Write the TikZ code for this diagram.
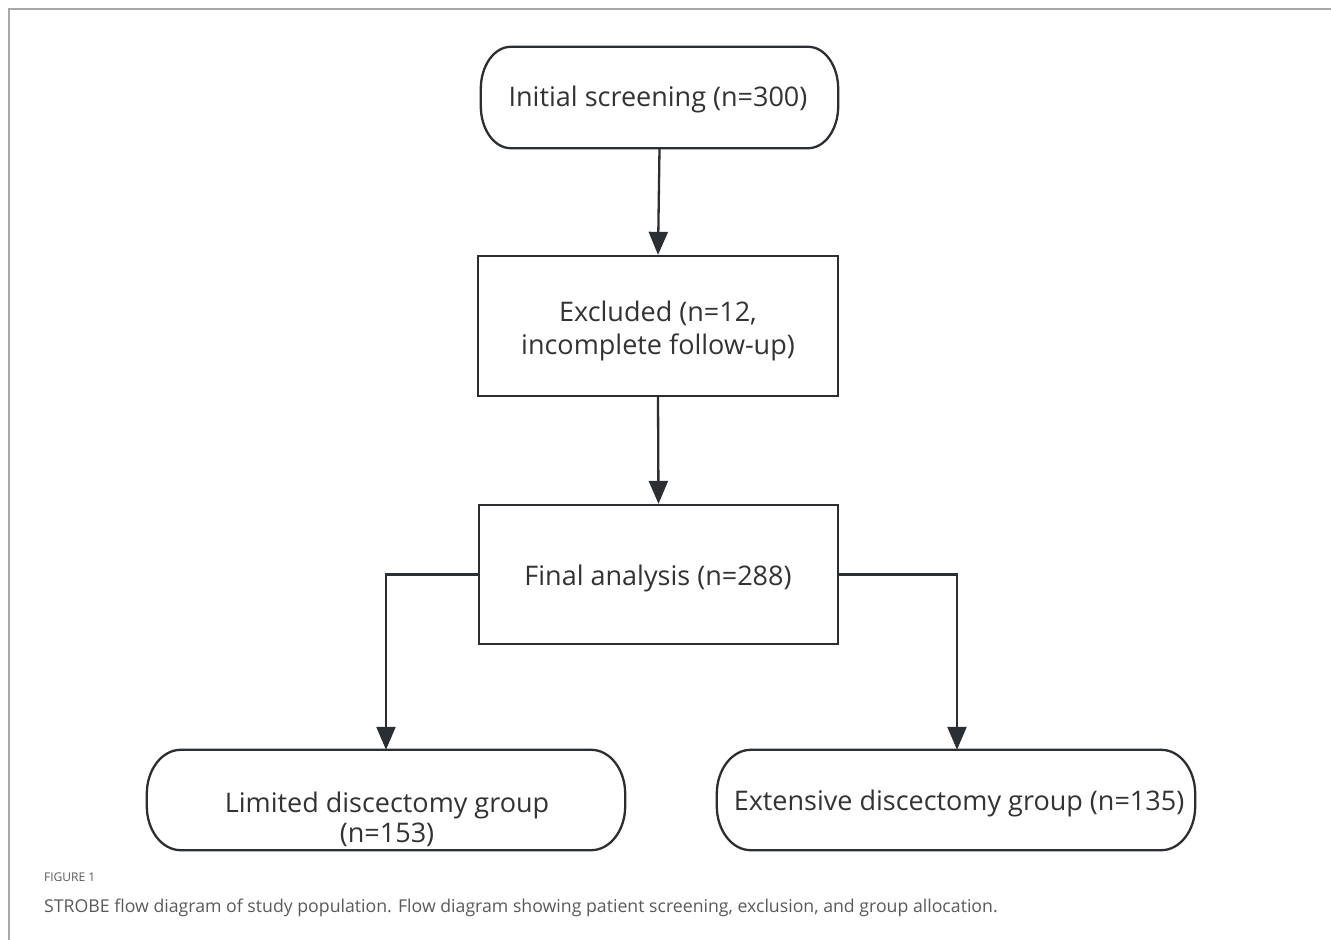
\documentclass[tikz,border=0pt]{standalone}
\usepackage{fontspec}
\setmainfont{Open Sans}
\usetikzlibrary{arrows.meta}
\definecolor{ink}{HTML}{2B2F33}
\definecolor{txt}{HTML}{333333}
\definecolor{frame}{HTML}{A8A8A8}
\definecolor{cap}{HTML}{5A5A5A}
\newcommand\stadiumoutline[3]{%
  \draw[ink,line width=2.3pt,fill=white]
    ([xshift=#2]#1.north west) -- ([xshift=-#2]#1.north east)
    arc[start angle=90,end angle=0,x radius=#2,y radius=#3]
    -- ([yshift=#3]#1.south east)
    arc[start angle=0,end angle=-90,x radius=#2,y radius=#3]
    -- ([xshift=#2]#1.south west)
    arc[start angle=270,end angle=180,x radius=#2,y radius=#3]
    -- ([yshift=-#3]#1.north west)
    arc[start angle=180,end angle=90,x radius=#2,y radius=#3] -- cycle;}
\begin{document}
\begin{tikzpicture}[x=1pt,y=-1pt,
  box/.style={draw=ink,line width=2.3pt,fill=white,inner sep=0pt},
  stadium/.style={draw=none,inner sep=0pt},
  label/.style={text=txt,font=\fontsize{27}{29}\selectfont,align=center,inner sep=0pt},
  link/.style={draw=ink,line width=2.3pt,-{Triangle[length=23pt,width=19pt]}}]
\useasboundingbox (0,0) rectangle (1331,940);
\fill[white] (0,0) rectangle (1331,940);
\draw[frame,line width=1.5pt] (9,940) -- (9,9) -- (1331,9);
% nodes
\node[stadium,minimum width=357pt,minimum height=101pt] (init) at (659.5,97.5) {};
\stadiumoutline{init}{30pt}{42pt}
\node[label] (inittext) at (658,99) {Initial screening (n=300)};
\node[box,minimum width=360pt,minimum height=140pt] (excl) at (658,326) {};
\node[label,font=\fontsize{27}{33}\selectfont] (excltext) at (658,331) {Excluded (n=12,\\incomplete follow-up)};
\node[box,minimum width=359pt,minimum height=139pt] (final) at (658.5,574.5) {};
\node[label] (finaltext) at (658,578) {Final analysis (n=288)};
\node[stadium,minimum width=478pt,minimum height=100pt] (lim) at (386,800) {};
\stadiumoutline{lim}{34pt}{44pt}
\node[label,font=\fontsize{27}{30}\selectfont] (limtext) at (387,819) {Limited discectomy group\\(n=153)};
\node[stadium,minimum width=478pt,minimum height=100pt] (ext) at (956,800) {};
\stadiumoutline{ext}{34pt}{44pt}
\node[label] (exttext) at (959,803) {Extensive discectomy group (n=135)};
% connectors
\draw[link] (init.south) -- (excl.north);
\draw[link] (excl.south) -- (final.north);
\coordinate (lc) at (386,574.5);
\coordinate (rc) at (957,574.5);
\draw[link] (final.west) -- (lc) -- (lim.north -| lc);
\draw[link] (final.east) -- (rc) -- (ext.north -| rc);
% caption
\node[anchor=base west,inner sep=0pt,text=cap,font=\fontsize{12}{14}\selectfont] (fig) at (44,881) {FIGURE 1};
\node[anchor=base west,inner sep=0pt,text=cap,font=\fontsize{17.7}{22}\selectfont] (capt) at (44,912) {STROBE flow diagram of study population. Flow diagram showing patient screening, exclusion, and group allocation.};
\end{tikzpicture}
\end{document}
